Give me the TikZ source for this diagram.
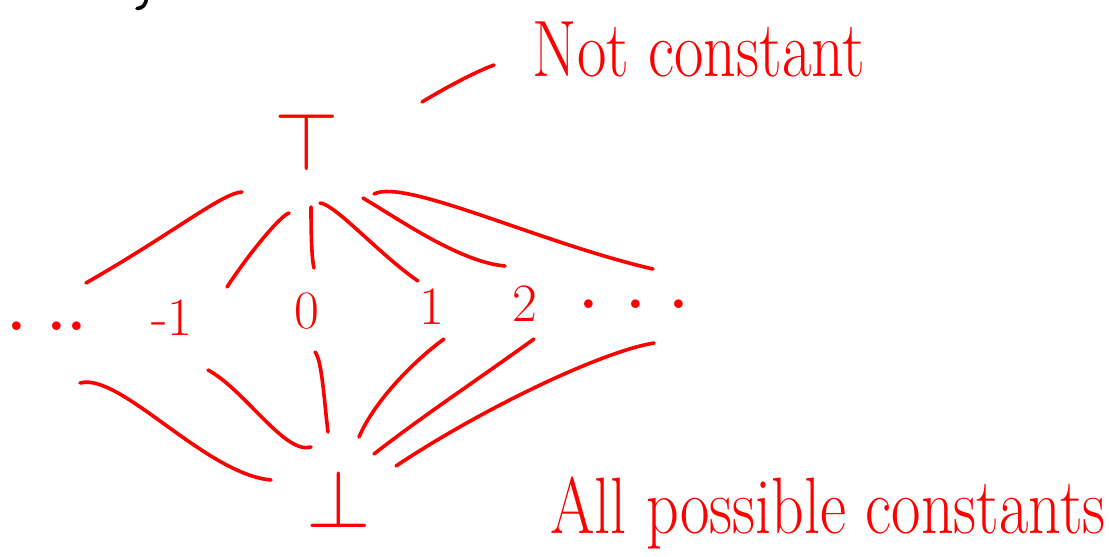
\RequirePackage{fix-cm}
\documentclass[tikz,border=0pt]{standalone}
\tikzset{
  ink/.style={red, line width=3.6pt, line cap=round, line join=round},
  lbl/.style={red, inner sep=0pt, font=\fontsize{54}{54}\selectfont},
  dotlbl/.style={red, inner sep=0pt, font=\fontsize{60}{60}\selectfont\bfseries},
  sym/.style={red, inner sep=0pt, font=\fontsize{83}{83}\selectfont},
  hand/.style={red, inner sep=0pt, font=\fontsize{64}{64}\selectfont},
}
\begin{document}
\begin{tikzpicture}[x=1pt,y=-1pt]
\useasboundingbox (0,0) rectangle (1109,557);
% cut-off black stroke at the top
\draw[black, line width=3.6pt, line cap=round] (146.5,-3) .. controls (146.5,5) and (142,8.5) .. (137,8.5);
% lattice nodes
\node[sym] (top) at (307,142) {$\top$};
\node[sym] (bot) at (339,499) {$\bot$};
\node[dotlbl] (ldots) at (47,326) {.\hspace{21pt}.\hspace{1pt}.};
\node[lbl] (m1) at (172,318) {-1};
\node[lbl] (zero) at (307,311) {0};
\node[lbl] (one) at (432,307) {1};
\node[lbl] (two) at (525,304) {2};
\node[dotlbl] (rdots) at (634,304) {.\hspace{28pt}.\hspace{24pt}.};
% annotations
\node[hand, anchor=base] (notconst) at (699,76) {\scalebox{1}[1.25]{Not constant}};
\node[hand, anchor=base] (allconst) at (828,533) {\scalebox{1}[1.25]{All possible constants}};
% pointer to top
\draw[ink] ([shift={(115,-40)}]top.center) .. controls (445,88) and (475,72) .. ([shift={(-205,-11)}]notconst.base);
% edges from top
\draw[ink] ([shift={(-65,50)}]top.center) .. controls (222,193) and (175,232) .. ([shift={(39,-43)}]ldots.center);
\draw[ink] ([shift={(-18,71)}]top.center) .. controls (282,215) and (255,245) .. ([shift={(55,-31)}]m1.center);
\draw[ink] ([shift={(4,65)}]top.center) .. controls (311,240) and (312,260) .. ([shift={(7,-43)}]zero.center);
\draw[ink] ([shift={(13,61)}]top.center) .. controls (335,204) and (380,255) .. ([shift={(-14,-26)}]one.center);
\draw[ink] ([shift={(56,56)}]top.center) .. controls (400,220) and (460,262) .. ([shift={(-20,-38)}]two.center);
\draw[ink] ([shift={(67,52)}]top.center) .. controls (405,178) and (540,243) .. ([shift={(19,-35)}]rdots.center);
% edges to bottom
\draw[ink] ([shift={(33,57)}]ldots.center) .. controls (120,372) and (205,474) .. ([shift={(-68,-19)}]bot.center);
\draw[ink] ([shift={(36,52)}]m1.center) .. controls (245,390) and (285,455) .. ([shift={(-28,-52)}]bot.center);
\draw[ink] ([shift={(8,41)}]zero.center) .. controls (322,360) and (324,400) .. ([shift={(-11,-67)}]bot.center);
\draw[ink] ([shift={(12,32)}]one.center) .. controls (415,360) and (375,400) .. ([shift={(20,-62)}]bot.center);
\draw[ink] ([shift={(9,35)}]two.center) .. controls (470,385) and (420,418) .. ([shift={(35,-45)}]bot.center);
\draw[ink] ([shift={(20,39)}]rdots.center) .. controls (600,352) and (480,410) .. ([shift={(57,-33)}]bot.center);
\end{tikzpicture}
\end{document}
